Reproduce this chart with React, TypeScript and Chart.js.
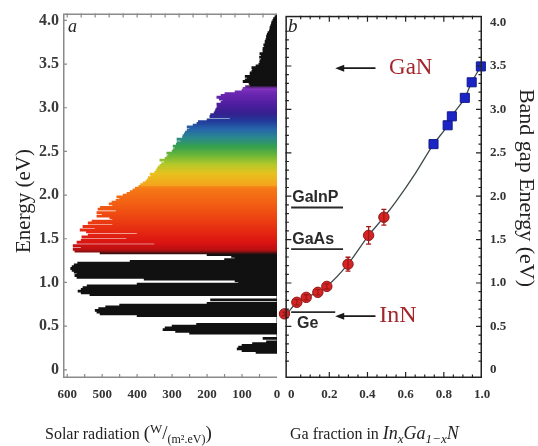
import React, { useEffect, useRef } from "react";
import { Chart, registerables } from "chart.js";

Chart.register(...registerables);

// ---------- Panel a : solar spectrum ----------
const photonEnergyEV = [
  0.20, 0.22, 0.24, 0.26, 0.28, 0.30, 0.32, 0.34, 0.36, 0.38,
  0.40, 0.42, 0.44, 0.46, 0.48, 0.50, 0.52, 0.54, 0.56, 0.58,
  0.60, 0.62, 0.64, 0.66, 0.68, 0.70, 0.72, 0.74, 0.76, 0.78,
  0.80, 0.82, 0.84, 0.86, 0.88, 0.90, 0.92, 0.94, 0.96, 0.98,
  1.00, 1.02, 1.04, 1.06, 1.08, 1.10, 1.12, 1.14, 1.16, 1.18,
  1.20, 1.22, 1.24, 1.26, 1.28, 1.30, 1.32, 1.34, 1.36, 1.38,
  1.40, 1.42, 1.44, 1.46, 1.48, 1.50, 1.52, 1.54, 1.56, 1.58,
  1.60, 1.62, 1.64, 1.66, 1.68, 1.70, 1.72, 1.74, 1.76, 1.78,
  1.80, 1.82, 1.84, 1.86, 1.88, 1.90, 1.92, 1.94, 1.96, 1.98,
  2.00, 2.02, 2.04, 2.06, 2.08, 2.10, 2.12, 2.14, 2.16, 2.18,
  2.20, 2.22, 2.24, 2.26, 2.28, 2.30, 2.32, 2.34, 2.36, 2.38,
  2.40, 2.42, 2.44, 2.46, 2.48, 2.50, 2.52, 2.54, 2.56, 2.58,
  2.60, 2.62, 2.64, 2.66, 2.68, 2.70, 2.72, 2.74, 2.76, 2.78,
  2.80, 2.82, 2.84, 2.86, 2.88, 2.90, 2.92, 2.94, 2.96, 2.98,
  3.00, 3.02, 3.04, 3.06, 3.08, 3.10, 3.12, 3.14, 3.16, 3.18,
  3.20, 3.22, 3.24, 3.26, 3.28, 3.30, 3.32, 3.34, 3.36, 3.38,
  3.40, 3.42, 3.44, 3.46, 3.48, 3.50, 3.52, 3.54, 3.56, 3.58,
  3.60, 3.62, 3.64, 3.66, 3.68, 3.70, 3.72, 3.74, 3.76, 3.78,
  3.80, 3.82, 3.84, 3.86, 3.88, 3.90, 3.92, 3.94, 3.96, 3.98,
  4.00, 4.02, 4.04, 4.06,
];
const solarRadiation = [
  60, 100, 114, 110, 100, 70, 30, 0, 40, 0,
  0, 250, 290, 326, 320, 300, 230, 0, 0, 0,
  0, 400, 506, 515, 520, 510, 490, 450, 200, 0,
  190, 0, 0, 535, 560, 569, 560, 555, 543, 400,
  110, 120, 380, 572, 578, 572, 580, 586, 590, 586,
  580, 570, 420, 150, 120, 130, 200, 506, 578, 583,
  560, 583, 350, 572, 560, 430, 558, 540, 400, 545,
  563, 520, 555, 470, 540, 529, 470, 478, 515, 500,
  515, 460, 512, 505, 470, 480, 472, 460, 450, 458,
  440, 429, 420, 412, 405, 395, 390, 383, 375, 370,
  368, 360, 363, 350, 346, 343, 340, 335, 330, 322,
  335, 320, 315, 310, 315, 300, 297, 292, 297, 288,
  286, 275, 286, 270, 269, 265, 262, 257, 250, 257,
  240, 229, 225, 200, 134, 192, 190, 180, 177, 175,
  172, 170, 172, 160, 155, 165, 172, 160, 149, 120,
  100, 97, 90, 77, 80, 97, 91, 85, 91, 77,
  77, 72, 70, 72, 60, 52, 49, 49, 45, 50,
  45, 49, 40, 40, 40, 36, 38, 34, 34, 32,
  30, 30, 28, 26, 22, 20, 20, 18, 16, 15,
  12, 10, 6, 3,
];
const radiationTicks = [0, 100, 200, 300, 400, 500, 600];
const energyTicks = [0, 0.5, 1, 1.5, 2, 2.5, 3, 3.5, 4];

// colour of the spectrum by photon energy
const spectrumStopEV = [1.33, 1.37, 1.45, 1.6, 1.78, 1.95, 2.09, 2.12, 2.25, 2.36, 2.46, 2.56, 2.66, 2.76, 2.86, 2.94, 3.05, 3.18, 3.23, 3.26];
const spectrumStopColor = ["#111111", "#b31010", "#d81212", "#e52a12", "#ee4a12", "#f36614", "#f67a16", "#f4a41c", "#e8c21e", "#b2c82a", "#6cb638", "#36a04e", "#2a8a8c", "#2666aa", "#22389a", "#34208e", "#501ea0", "#6e28b2", "#8434c0", "#111111"];

// ---------- Panel b : InGaN band gap ----------
const curveGaFraction = [-0.03, 0.03, 0.079, 0.14, 0.187, 0.298, 0.406, 0.486, 0.55, 0.65, 0.746, 0.82, 0.842, 0.91, 0.946, 0.994];
const curveGapEV = [0.62, 0.778, 0.835, 0.893, 0.961, 1.217, 1.549, 1.758, 1.94, 2.26, 2.6, 2.817, 2.92, 3.133, 3.312, 3.495];
const redGaFraction = [-0.035, 0.03, 0.079, 0.14, 0.187, 0.298, 0.406, 0.486];
const redGapEV = [0.645, 0.778, 0.835, 0.893, 0.961, 1.217, 1.549, 1.758];
const redErrEV = [0.02, 0.03, 0.03, 0.03, 0.03, 0.08, 0.1, 0.09];
const blueGaFraction = [0.746, 0.82, 0.842, 0.91, 0.946, 0.994];
const blueGapEV = [2.6, 2.817, 2.92, 3.133, 3.312, 3.495];
const fractionTicks = [0, 0.2, 0.4, 0.6, 0.8, 1.0];
const materialNames = ["GaInP", "GaAs", "Ge"];
const materialGapEV = [1.87, 1.39, 0.664];
const materialLineEnd = [0.272, 0.272, 0.231];

const SERIF = '"Liberation Serif", "Times New Roman", serif';
const SANS = '"Liberation Sans", Arial, sans-serif';

function hexRgb(h: string) {
  const n = parseInt(h.slice(1), 16);
  return [(n >> 16) & 255, (n >> 8) & 255, n & 255];
}
function spectrumColor(e: number): string {
  const s = spectrumStopEV;
  if (e <= s[0] || e >= s[s.length - 1]) return "#111111";
  let i = 0;
  while (i < s.length - 2 && e >= s[i + 1]) i++;
  const t = (e - s[i]) / (s[i + 1] - s[i]);
  const a = hexRgb(spectrumStopColor[i]);
  const b = hexRgb(spectrumStopColor[i + 1]);
  const c = a.map((v, k) => Math.round(v + (b[k] - v) * t));
  return `rgb(${c[0]},${c[1]},${c[2]})`;
}

type Part = [string, string, number];
function drawRich(ctx: CanvasRenderingContext2D, x: number, y: number, parts: Part[]) {
  let cx = x;
  ctx.textAlign = "left";
  ctx.textBaseline = "alphabetic";
  for (const [t, font, dy] of parts) {
    ctx.font = font;
    ctx.fillText(t, cx, y + dy);
    cx += ctx.measureText(t).width;
  }
}

const leftDecor = {
  id: "leftDecor",
  afterDatasetsDraw(chart: any) {
    const { ctx, chartArea: a, scales } = chart;
    const x = scales.x, y = scales.y;
    ctx.save();
    ctx.strokeStyle = "#8a8a8a";
    ctx.lineWidth = 1.5;
    ctx.beginPath();
    ctx.moveTo(a.right, a.top + 0.75);
    ctx.lineTo(a.left + 0.75, a.top + 0.75);
    ctx.lineTo(a.left + 0.75, a.bottom - 0.75);
    ctx.lineTo(a.right, a.bottom - 0.75);
    ctx.stroke();
    ctx.lineWidth = 1.2;
    ctx.beginPath();
    for (let v = 40; v <= 600; v += 40) {
      const px = x.getPixelForValue(v);
      ctx.moveTo(px, a.top);
      ctx.lineTo(px, a.top + 4);
    }
    for (let v = 50; v <= 600; v += 50) {
      const px = x.getPixelForValue(v);
      ctx.moveTo(px, a.bottom);
      ctx.lineTo(px, a.bottom - 4);
    }
    for (const v of energyTicks) {
      const py = y.getPixelForValue(v);
      ctx.moveTo(a.left, py);
      ctx.lineTo(a.left + 4, py);
    }
    ctx.stroke();
    ctx.fillStyle = "#222";
    ctx.font = `italic 18px ${SERIF}`;
    ctx.textAlign = "left";
    ctx.fillText("a", 68, 32);
    ctx.save();
    ctx.translate(30, 201);
    ctx.rotate(-Math.PI / 2);
    ctx.textAlign = "center";
    ctx.font = `21px ${SERIF}`;
    ctx.fillText("Energy (eV)", 0, 0);
    ctx.restore();
    drawRich(ctx, 45, 439, [
      ["Solar radiation ", `16px ${SERIF}`, 0],
      ["(", `19px ${SERIF}`, 0],
      ["W", `13px ${SERIF}`, -6],
      ["/", `19px ${SERIF}`, 0],
      ["(m\u00B2.eV)", `12px ${SERIF}`, 4],
      [")", `19px ${SERIF}`, 0],
    ]);
    ctx.restore();
  },
};

const rightDecor = {
  id: "rightDecor",
  afterDatasetsDraw(chart: any) {
    const { ctx, chartArea: a, scales } = chart;
    const x = scales.x, y = scales.y;
    ctx.save();
    // error bars
    ctx.strokeStyle = "#a01818";
    ctx.lineWidth = 1.3;
    ctx.beginPath();
    redGaFraction.forEach((f, i) => {
      const px = x.getPixelForValue(f);
      const p1 = y.getPixelForValue(redGapEV[i] + redErrEV[i]);
      const p2 = y.getPixelForValue(redGapEV[i] - redErrEV[i]);
      ctx.moveTo(px, p1);
      ctx.lineTo(px, p2);
      ctx.moveTo(px - 2.5, p1);
      ctx.lineTo(px + 2.5, p1);
      ctx.moveTo(px - 2.5, p2);
      ctx.lineTo(px + 2.5, p2);
    });
    ctx.stroke();
    // frame
    ctx.strokeStyle = "#222";
    ctx.lineWidth = 1.5;
    ctx.strokeRect(a.left + 0.75, a.top + 0.75, a.width - 1.5, a.height - 1.5);
    ctx.lineWidth = 1.2;
    ctx.beginPath();
    for (let k = 1; k < 40; k++) {
      const v = k / 10;
      const py = y.getPixelForValue(v);
      const len = k % 5 === 0 ? 6 : 3.5;
      ctx.moveTo(a.left, py);
      ctx.lineTo(a.left + len, py);
      ctx.moveTo(a.right, py);
      ctx.lineTo(a.right - len, py);
    }
    for (let k = 1; k < 20; k++) {
      const v = k / 20;
      const px = x.getPixelForValue(v);
      const len = k % 4 === 0 ? 6 : 3.5;
      ctx.moveTo(px, a.top);
      ctx.lineTo(px, a.top + len);
      ctx.moveTo(px, a.bottom);
      ctx.lineTo(px, a.bottom - len);
    }
    ctx.stroke();
    // arrows
    const arrow = (x1: number, x2: number, e: number) => {
      const px1 = x.getPixelForValue(x1);
      const px2 = x.getPixelForValue(x2);
      const py = y.getPixelForValue(e);
      ctx.strokeStyle = "#1a1a1a";
      ctx.fillStyle = "#1a1a1a";
      ctx.lineWidth = 1.8;
      ctx.beginPath();
      ctx.moveTo(px1 + 6, py);
      ctx.lineTo(px2, py);
      ctx.stroke();
      ctx.beginPath();
      ctx.moveTo(px1, py);
      ctx.lineTo(px1 + 9, py - 3.5);
      ctx.lineTo(px1 + 9, py + 3.5);
      ctx.closePath();
      ctx.fill();
    };
    arrow(0.231, 0.442, 3.475);
    arrow(0.231, 0.442, 0.618);
    ctx.fillStyle = "#a3262c";
    ctx.textAlign = "left";
    ctx.textBaseline = "alphabetic";
    ctx.font = `23px ${SERIF}`;
    ctx.fillText("GaN", x.getPixelForValue(0.513), y.getPixelForValue(3.403));
    ctx.font = `24px ${SERIF}`;
    ctx.fillText("InN", x.getPixelForValue(0.462), y.getPixelForValue(0.546));
    // material labels
    ctx.fillStyle = "#2a2a2a";
    ctx.font = `bold 16px ${SANS}`;
    materialNames.forEach((n, i) => {
      const py = y.getPixelForValue(materialGapEV[i]);
      const below = i === 2;
      ctx.fillText(n, x.getPixelForValue(below ? 0.031 : 0.006), below ? py + 16 : py - 5);
    });
    // panel letter & titles
    ctx.fillStyle = "#222";
    ctx.font = `italic 19px ${SERIF}`;
    ctx.fillText("b", 10, 32);
    ctx.save();
    ctx.translate(242, 188);
    ctx.rotate(Math.PI / 2);
    ctx.textAlign = "center";
    ctx.font = `22px ${SERIF}`;
    ctx.fillText("Band gap Energy (eV)", 0, 0);
    ctx.restore();
    drawRich(ctx, 12, 439, [
      ["Ga fraction in ", `16px ${SERIF}`, 0],
      ["In", `italic 18px ${SERIF}`, 0],
      ["x", `italic 13px ${SERIF}`, 4],
      ["Ga", `italic 18px ${SERIF}`, 0],
      ["1\u2212x", `italic 13px ${SERIF}`, 4],
      ["N", `italic 18px ${SERIF}`, 0],
    ]);
    ctx.restore();
  },
};

const tickFont = (size: number) => ({ family: SERIF, size, weight: "bold" as const });
const energyLabel = (v: any) => (Number(v) === 0 ? "0" : Number(v).toFixed(1));

export default function App() {
  const leftRef = useRef<HTMLCanvasElement>(null);
  const rightRef = useRef<HTMLCanvasElement>(null);

  useEffect(() => {
    const spectrum = photonEnergyEV.map((e, i) => ({ x: solarRadiation[i], y: e }));
    const left = new Chart(leftRef.current as HTMLCanvasElement, {
      type: "bar",
      data: {
        datasets: [
          {
            label: "Solar radiation",
            data: spectrum as any,
            backgroundColor: (c: any) => spectrumColor(c.raw ? c.raw.y : 0),
            borderWidth: 0,
            barThickness: 2.2,
          },
        ],
      },
      options: {
        indexAxis: "y",
        animation: false,
        responsive: false,
        layout: { padding: { top: 13, right: 13, left: 0, bottom: 0 } },
        plugins: { legend: { display: false }, tooltip: { enabled: false } },
        scales: {
          x: {
            type: "linear",
            reverse: true,
            min: 0,
            max: 612,
            grid: { display: false, drawTicks: false },
            border: { display: false },
            afterBuildTicks: (s: any) => {
              s.ticks = radiationTicks.map((v) => ({ value: v }));
            },
            afterFit: (s: any) => {
              s.height = 68;
            },
            ticks: { padding: 9, color: "#333", font: tickFont(13), maxRotation: 0, callback: (v: any) => String(v) },
          },
          y: {
            type: "linear",
            min: -0.094,
            max: 4.078,
            offset: false,
            grid: { display: false, drawTicks: false },
            border: { display: false },
            afterBuildTicks: (s: any) => {
              s.ticks = energyTicks.map((v) => ({ value: v }));
            },
            afterFit: (s: any) => {
              s.width = 63;
            },
            ticks: { padding: 4, color: "#3a3a3a", font: tickFont(16), callback: energyLabel },
          },
        },
      } as any,
      plugins: [leftDecor],
    });

    const pts = (xs: number[], ys: number[]) => xs.map((x, i) => ({ x, y: ys[i] }));
    const right = new Chart(rightRef.current as HTMLCanvasElement, {
      type: "scatter",
      data: {
        datasets: [
          {
            label: "fit",
            data: pts(curveGaFraction, curveGapEV),
            showLine: true,
            borderColor: "#3c4a4a",
            borderWidth: 1.3,
            pointRadius: 0,
            cubicInterpolationMode: "monotone",
            order: 5,
          },
          ...materialNames.map((n, i) => ({
            label: n,
            data: [
              { x: 0, y: materialGapEV[i] },
              { x: materialLineEnd[i], y: materialGapEV[i] },
            ],
            showLine: true,
            borderColor: "#2a2a2a",
            borderWidth: 1.8,
            pointRadius: 0,
            order: 4,
          })),
          {
            label: "In-rich InGaN",
            data: pts(redGaFraction, redGapEV),
            pointStyle: "circle",
            pointRadius: 5.2,
            backgroundColor: "#d42424",
            borderColor: "#8e1414",
            borderWidth: 1,
            clip: false,
            order: 2,
          },
          {
            label: "Ga-rich InGaN",
            data: pts(blueGaFraction, blueGapEV),
            pointStyle: "rect",
            pointRadius: 6.4,
            backgroundColor: "#1b24c4",
            borderColor: "#111a8a",
            borderWidth: 1,
            clip: false,
            order: 1,
          },
        ],
      } as any,
      options: {
        animation: false,
        responsive: false,
        layout: { padding: { top: 13, right: 0, left: 3, bottom: 0 } },
        plugins: { legend: { display: false }, tooltip: { enabled: false } },
        scales: {
          x: {
            type: "linear",
            min: -0.03,
            max: 1.0,
            grid: { display: false, drawTicks: false },
            border: { display: false },
            afterBuildTicks: (s: any) => {
              s.ticks = fractionTicks.map((v) => ({ value: v }));
            },
            afterFit: (s: any) => {
              s.height = 68;
            },
            ticks: { padding: 9, color: "#333", font: tickFont(13), maxRotation: 0, callback: energyLabel },
          },
          y: {
            type: "linear",
            position: "right",
            min: -0.094,
            max: 4.078,
            grid: { display: false, drawTicks: false },
            border: { display: false },
            afterBuildTicks: (s: any) => {
              s.ticks = energyTicks.map((v) => ({ value: v }));
            },
            afterFit: (s: any) => {
              s.width = 56;
            },
            ticks: { padding: 8, color: "#333", font: tickFont(13), callback: energyLabel },
          },
        },
      } as any,
      plugins: [rightDecor],
    });

    return () => {
      left.destroy();
      right.destroy();
    };
  }, []);

  return (
    <div style={{ position: "absolute", left: 0, top: 0, width: 538, height: 446, background: "#fff", overflow: "hidden" }}>
      <canvas ref={leftRef} width={290} height={446} style={{ position: "absolute", left: 0, top: 0, width: 290, height: 446 }} />
      <canvas ref={rightRef} width={260} height={446} style={{ position: "absolute", left: 278, top: 0, width: 260, height: 446 }} />
    </div>
  );
}
